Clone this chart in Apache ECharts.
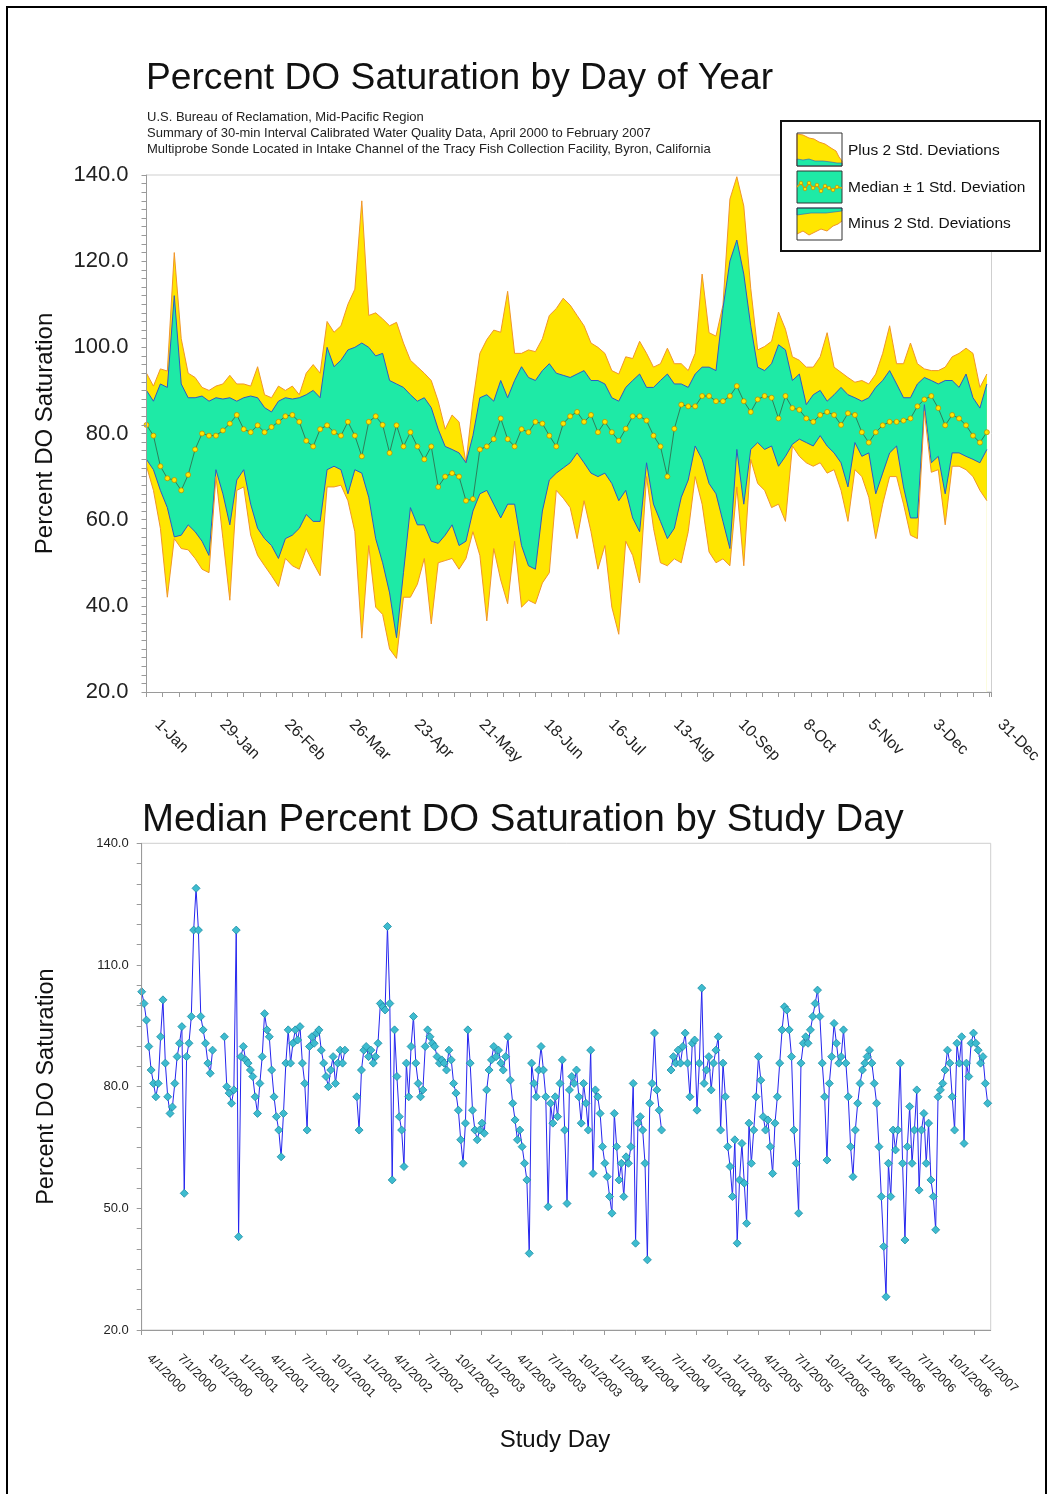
<!DOCTYPE html>
<html><head><meta charset="utf-8">
<script src="https://cdn.jsdelivr.net/npm/echarts@6/dist/echarts.min.js"></script>
<style>html,body{margin:0;padding:0;background:#fff}#c{width:1052px;height:1494px}</style>
</head><body><div id="c"></div>
<script>
const FONT = '"Liberation Sans", Arial, Helvetica, sans-serif';

// ---------- Top chart: Percent DO Saturation by Day of Year (sampled every 3 days) ----------
const doyLabels = ['1-Jan','29-Jan','26-Feb','26-Mar','23-Apr','21-May','18-Jun','16-Jul','13-Aug','10-Sep','8-Oct','5-Nov','3-Dec','31-Dec'];
const dayStep = 3;
const plus2 = [94,91,95,94.5,122,102,94,93,90.7,90,
 91,91.5,93.5,91.5,91.5,91,95.5,89,88.3,91,
 90,91,89,94,96,94,106,103.5,105,110,
 113.5,134,107.4,108,106.6,105,105.8,101,97,95.5,
 94,92.3,87.5,81,84.3,82.7,73.2,87.5,98.6,101.8,
 104,103.5,113,98.6,98.6,99.4,99,102,107.4,109,
 111.4,109.8,107.4,105,101,100,98.6,94.6,93.8,97.8,
 97.4,101.4,98.6,95.4,96.2,99.8,96.2,96.2,94.6,98.6,
 117,103.4,102.6,109.8,134.4,139.6,132.8,113.7,99.4,100.2,
 101.4,108.2,104.2,97.8,97,95.4,95.4,97.8,103.4,95.4,
 94.2,93,91.9,92.3,91.5,93.8,98.6,105,96.2,96.2,
 101,96.2,95,94.6,94.6,95.4,97.8,98.6,99.8,98.6,
 90.7,93.8];
const plus1 = [90,87.5,91.5,90.7,112,91.5,88.3,88.3,88.7,87.5,
 88.3,88,88.3,87.5,88.3,88.7,88.3,86,85,87.5,
 88.3,88,88.3,89,90,88.3,100,95.5,97,99.4,
 100,101,100,98,98.6,92.3,91.5,90.7,89,87.5,
 88.3,86,81,77,76.3,75.5,73.2,79.5,88.3,89,
 87.5,92.3,88.3,92.3,95.5,93,92.3,94.6,96.2,94,
 93.5,93,93.8,94.6,92.3,92.3,91.5,88.3,87.5,90.7,
 92.3,93.8,90.7,90.7,92.3,93.8,91.5,91.5,90.7,93.8,
 95.4,95.4,94.6,109,120,124.9,117,105,95.4,94.6,
 96.2,100.6,99.4,92.3,93.8,86.7,89,90,87.5,89,
 90.7,89,88.3,87.5,88.3,90.7,92.3,94.6,91.5,88.3,
 88.3,91.5,93,92.3,91.5,92.3,92.3,90.7,93.8,88.3,
 85.9,91.5];
const median = [82,79.5,72.4,69.6,69.2,66.8,70.4,76.3,80,79.5,
 79.5,80.7,82.3,84.3,81,80.3,81.9,80.3,81.5,82.7,
 84,84.3,82.7,78.3,77,81,81.9,80.3,79.5,82.7,
 79.5,74.7,82.7,84,82,75.5,81.9,77,80.3,77,
 74,77,67.6,70,70.8,70,64.4,64.8,76.3,77,
 78.7,83.5,78.7,77,81,80.3,82.7,82.3,79.5,77,
 82.3,84,85,82.7,84.3,80.3,82.7,80.3,78.3,81.1,
 84,84,83,79.5,77,70,81.1,86.7,86.3,86.3,
 88.7,88.7,87.5,87.5,88.7,91,87.5,85,87.9,88.7,
 88.3,83.5,88.7,85.9,85.5,83.5,82.7,84.3,85,84.3,
 82,84.7,84.3,80.3,77.9,80.3,81.9,82.7,82.7,83,
 83.5,86.3,87.9,88.7,85.9,81.9,84.3,83.5,81.9,79.5,
 77.9,80.3];
const minus1 = [74,71.6,66.8,62.8,56,56.4,58.8,57.2,55,51.7,
 71.6,66,58.8,69.2,71.6,63.6,58,55.6,54,51,
 55.6,56.4,58,61.2,59.6,59.6,71.6,72.4,71.6,66,
 71.6,70.8,65.2,55.6,50,43,32.6,47.7,62.8,58.8,
 58.8,55,54.5,56.4,58.8,54,55,62,66,66.8,
 63.6,60.4,63.6,63.6,54,49.3,48.5,62,69.2,70.8,
 72,73.2,75.5,73.2,70.8,70,70.8,68.4,64.4,66.8,
 60.4,57.2,73.2,63.6,59.6,55.6,58,65.2,69.2,77.1,
 74,68.4,66,59.6,53.3,76.3,63.6,76.3,77.9,76.3,
 77.1,72.4,74.7,77.5,78.7,77.9,77.1,79.5,77.1,75.5,
 73.2,67.6,77.9,74.7,75.5,66,70.8,75.5,77.1,67.6,
 60.4,60.4,86.7,73.2,74.7,66,75.5,75.5,74.7,74,
 73.2,76.3];
const minus2 = [72.4,66.8,58,42,55.6,53.3,53,51,48.5,47.7,
 70,55.6,41.3,66.8,67.6,56.4,51.7,49.3,47,44.5,
 51,49.3,48.5,53.3,50,47,67.6,67.6,68,64.4,
 57.2,32.5,54,39.7,38,30,27.8,42,42,45,
 51,35.8,50,50.5,51,48.5,51,57.2,51.7,36.5,
 53.3,46,40.5,55,39.7,41.3,40.5,45.3,47.7,66.8,
 65,62.8,55.6,64.4,57.2,48.5,54,39.7,33.4,55,
 51.7,45.3,70,58,50,49.3,50.9,50,57.2,70,
 63.6,52.5,50,50.9,49.3,67.6,49.3,74,68.4,66.8,
 62.8,63.6,59.6,77.1,74.7,73.2,72.4,73.2,70.8,71.6,
 66.8,59.6,71.6,70,65.2,55.6,63.6,70,70,63.6,
 56.4,55.6,85.1,71,71.6,58.8,72.4,72.4,71.6,70,
 66.8,64.4];

// ---------- Bottom chart: Median Percent DO Saturation by Study Day (weekly from 4/1/2000) ----------
const studyStep = 7;
const studyTickDays = [0,91,183,275,365,456,548,640,730,821,913,1005,1095,1186,1278,1370,1461,1552,1644,1736,1826,1917,2009,2101,2191,2282,2374,2466];
const studyTickLabels = ['4/1/2000','7/1/2000','10/1/2000','1/1/2001','4/1/2001','7/1/2001','10/1/2001','1/1/2002','4/1/2002','7/1/2002','10/1/2002','1/1/2003','4/1/2003','7/1/2003','10/1/2003','1/1/2004','4/1/2004','7/1/2004','10/1/2004','1/1/2005','4/1/2005','7/1/2005','10/1/2005','1/1/2006','4/1/2006','7/1/2006','10/1/2006','1/1/2007'];
const studyMedian = [103.4,100.5,96.4,89.9,84.1,80.8,77.5,80.8,92.3,101.4,85.8,77.5,73.4,
 75,80.8,87.4,90.7,94.8,53.7,87.4,90.7,97.3,118.6,128.9,118.6,97.3,
 94,90.7,85.8,83.3,89,null,null,null,null,92.3,80,78.4,75.9,
 79.2,118.6,43,87.4,89.9,86.6,85.8,84.1,82.5,77.5,73.4,80.8,87.4,
 98,94,92.3,84.1,77.5,72.6,69.3,62.7,73.4,85.8,94,85.8,
 90.7,94,91.5,94.8,85.8,80.8,69.3,89.9,92.3,90.7,93.2,94,89,
 85.8,82.5,80,84.1,87.4,80.8,85.8,89,85.8,89,null,null,null,null,
 77.5,69.3,84.1,89,89.9,87.4,89,85.8,87.4,90.7,100.5,99.7,98.9,
 119.5,100.5,57,94,82.5,72.6,69.3,60.3,85.8,77.5,89.9,97.3,85.8,
 80.8,77.5,79.2,89.9,94,92.3,90.7,89.9,87.4,85.8,86.6,85.8,84.1,
 89,86.6,80.8,78.4,74.2,66.9,61.1,71,94,85.8,74.2,69.3,
 66.9,69.3,71,68.5,79.2,84.1,86.6,89.9,87.4,89,85.8,84.1,87.4,
 92.3,81.6,75.9,71.8,66.9,69.3,65.2,61.1,57,38.9,85.8,80.8,77.5,84.1,
 89.9,84.1,77.5,50.4,75.9,71,77.5,72.6,80.8,86.6,69.3,51.2,79.2,
 82.5,80.8,84.1,77.5,71,80.8,75.9,69.3,
 89,58.6,79.2,77.5,73.4,65.2,61.1,57.8,52.9,48.8,
 73.4,65.2,57,61.1,52.9,62.7,61.1,65.2,80.8,41.4,
 71,72.6,69.3,61.1,37.3,75.9,80.8,93.2,79.2,74.2,
 69.3,null,null,null,84.1,87.4,85.8,89,85.8,89.9,
 93.2,85.8,77.5,90.7,91.5,74.2,85.8,104.3,80.8,84.1,
 87.4,79.2,85.8,89,92.3,69.3,85.8,77.5,65.2,60.3,
 52.9,66.9,41.4,57,66,56.2,46.3,71,61.1,69.3,
 77.5,87.4,81.6,72.6,69.3,71.8,65.2,58.6,71,77.5,
 85.8,94,99.7,98.9,94,87.4,69.3,61.1,48.8,85.8,
 90.7,92.3,90.7,94,97.3,100.5,103.8,97.3,85.8,77.5,
 61.9,80.8,87.4,95.6,90.7,85.8,87.4,94,85.8,77.5,
 65.2,57.8,69.3,75.9,80.8,84.1,85.8,87.4,89,85.8,
 80.8,75.9,65.2,52.9,40.6,28.2,61.1,52.9,69.3,64.4,
 69.3,85.8,61.1,42.2,65.2,75.1,61.1,69.3,79.2,54.5,
 69.3,73.4,61.1,71,57,52.9,44.7,77.5,79.2,80.8,
 84.1,89,85.8,77.5,69.3,90.7,85.8,92.3,66,85.8,
 82.5,90.7,93.2,90.7,89,85.8,87.4,80.8,75.9];

// ---------- styling ----------
const YEL = '#FFE600', TEAL = '#1EEAA6', ORANGE = '#F0952A', BLUE = '#2E58C8';
const pairs = (arr, step) => arr.map((v, i) => [i * step, v]);

const chart = echarts.init(document.getElementById('c'), null, {renderer: 'canvas'});

function bandSeries(arr, edge, fill) {
  return {
    type: 'line', xAxisIndex: 0, yAxisIndex: 0, data: pairs(arr, dayStep),
    symbol: 'none', smooth: false, silent: true,
    lineStyle: {color: edge, width: 1},
    areaStyle: {color: fill, opacity: 1, origin: 'start'}
  };
}

const LEG_FS = 15.5;
const legendGroup = {
  type: 'group', x: 781, y: 121, children: [
    {type: 'rect', shape: {x: 0, y: 0, width: 259, height: 130}, style: {fill: '#fff', stroke: '#111', lineWidth: 2}},
    // entry 1
    {type: 'rect', shape: {x: 16, y: 12, width: 45, height: 33}, style: {fill: '#fff', stroke: 'none'}},
    {type: 'polygon', shape: {points: [[16,13],[22,14],[28,17],[33,18],[38,21],[44,23],[50,27],[55,30],[58,36],[61,40],[61,45],[16,45]]}, style: {fill: YEL, stroke: ORANGE, lineWidth: 1}},
    {type: 'polygon', shape: {points: [[16,38],[22,39],[28,38],[34,40],[42,40],[50,41],[56,42],[61,42],[61,45],[16,45]]}, style: {fill: TEAL, stroke: BLUE, lineWidth: 0.6}},
    {type: 'rect', shape: {x: 16, y: 12, width: 45, height: 33}, style: {fill: 'none', stroke: '#333', lineWidth: 1}},
    // entry 2
    {type: 'rect', shape: {x: 16, y: 50, width: 45, height: 32}, style: {fill: TEAL, stroke: '#333', lineWidth: 1}},
    {type: 'polyline', shape: {points: [[16,66],[20,62],[24,68],[28,62],[32,67],[36,64],[40,70],[44,65],[48,67],[52,69],[56,66],[61,67]]}, style: {stroke: '#E0A000', lineWidth: 1.5, fill: 'none'}},
    ...[[20,62],[24,68],[28,62],[32,67],[36,64],[40,70],[44,65],[48,67],[52,69],[56,66]].map(p => ({type: 'circle', shape: {cx: p[0], cy: p[1], r: 1.8}, style: {fill: YEL, stroke: '#C08000', lineWidth: 0.6}})),
    // entry 3
    {type: 'rect', shape: {x: 16, y: 87, width: 45, height: 32}, style: {fill: '#fff', stroke: 'none'}},
    {type: 'polygon', shape: {points: [[16,87],[61,87],[61,100],[57,103],[52,105],[46,110],[40,108],[34,111],[28,114],[22,110],[16,113]]}, style: {fill: YEL, stroke: 'none'}},
    {type: 'polyline', shape: {points: [[16,113],[22,110],[28,114],[34,111],[40,108],[46,110],[52,105],[57,103],[61,100]]}, style: {stroke: ORANGE, lineWidth: 1, fill: 'none'}},
    {type: 'polygon', shape: {points: [[16,87],[61,87],[61,90],[45,92],[30,92],[16,94]]}, style: {fill: TEAL, stroke: BLUE, lineWidth: 0.6}},
    {type: 'rect', shape: {x: 16, y: 87, width: 45, height: 32}, style: {fill: 'none', stroke: '#333', lineWidth: 1}},
    // texts
    {type: 'text', x: 67, y: 30, style: {text: 'Plus 2 Std. Deviations', fontSize: LEG_FS, fontFamily: FONT, fill: '#111', align: 'left', verticalAlign: 'middle'}},
    {type: 'text', x: 67, y: 67, style: {text: 'Median \u00b1 1 Std. Deviation', fontSize: LEG_FS, fontFamily: FONT, fill: '#111', align: 'left', verticalAlign: 'middle'}},
    {type: 'text', x: 67, y: 103, style: {text: 'Minus 2 Std. Deviations', fontSize: LEG_FS, fontFamily: FONT, fill: '#111', align: 'left', verticalAlign: 'middle'}}
  ]
};

const option = {
  animation: false,
  backgroundColor: '#fff',
  textStyle: {fontFamily: FONT},
  grid: [
    {left: 146.5, top: 175, width: 845, height: 517, show: true, borderColor: '#cfcfcf', borderWidth: 1, backgroundColor: 'transparent'},
    {left: 141.7, top: 843.3, width: 849, height: 486.7, show: true, borderColor: '#cfcfcf', borderWidth: 1, backgroundColor: 'transparent'}
  ],
  xAxis: [
    {
      type: 'value', gridIndex: 0, min: 0, max: 365, interval: 7, z: 10,
      splitLine: {show: false},
      axisLine: {show: true, lineStyle: {color: '#9a9a9a', width: 1}},
      axisTick: {show: true, length: 5, lineStyle: {color: '#9a9a9a'}},
      axisLabel: {
        rotate: -45, fontSize: 16, color: '#222', fontFamily: FONT, margin: 41,
        verticalAlign: 'bottom', lineHeight: 31, showMinLabel: true, showMaxLabel: true,
        formatter: v => (v % 28 === 0 && doyLabels[v / 28]) ? doyLabels[v / 28] : ''
      }
    },
    {
      type: 'value', gridIndex: 1, min: 0, max: 2515, z: 10,
      splitLine: {show: false},
      axisLine: {show: true, lineStyle: {color: '#9a9a9a', width: 1}},
      axisTick: {show: true, length: 5, lineStyle: {color: '#9a9a9a'}, customValues: studyTickDays},
      axisLabel: {
        rotate: -45, fontSize: 12.5, color: '#222', fontFamily: FONT, margin: 33.5,
        verticalAlign: 'bottom', lineHeight: 20.5, showMinLabel: true, showMaxLabel: true, hideOverlap: false,
        customValues: studyTickDays,
        formatter: v => { const i = studyTickDays.indexOf(v); return i >= 0 ? studyTickLabels[i] : ''; }
      }
    }
  ],
  yAxis: [
    {
      type: 'value', gridIndex: 0, min: 20, max: 140, interval: 2, z: 10,
      name: 'Percent DO Saturation', nameLocation: 'middle', nameGap: 89,
      nameTextStyle: {fontSize: 24, color: '#111', fontFamily: FONT},
      splitLine: {show: false},
      axisLine: {show: true, lineStyle: {color: '#9a9a9a'}},
      axisTick: {show: true, length: 5, lineStyle: {color: '#9a9a9a'}},
      axisLabel: {fontSize: 22, color: '#222', fontFamily: FONT, margin: 18,
        formatter: v => (v % 20 === 0 ? v.toFixed(1) : '')}
    },
    {
      type: 'value', gridIndex: 1, min: 20, max: 140, interval: 5, z: 10,
      name: 'Percent DO Saturation', nameLocation: 'middle', nameGap: 83,
      nameTextStyle: {fontSize: 23.5, color: '#111', fontFamily: FONT},
      splitLine: {show: false},
      axisLine: {show: true, lineStyle: {color: '#9a9a9a'}},
      axisTick: {show: true, length: 5, lineStyle: {color: '#9a9a9a'}},
      axisLabel: {fontSize: 13, color: '#222', fontFamily: FONT, margin: 13,
        formatter: v => ((v - 20) % 30 === 0 ? v.toFixed(1) : '')}
    }
  ],
  series: [
    bandSeries(plus2, ORANGE, YEL),
    bandSeries(plus1, BLUE, TEAL),
    bandSeries(minus1, BLUE, YEL),
    bandSeries(minus2, ORANGE, '#ffffff'),
    {
      type: 'line', xAxisIndex: 0, yAxisIndex: 0, data: pairs(median, dayStep),
      symbol: 'circle', symbolSize: 5, showSymbol: true,
      lineStyle: {color: '#2F7F5A', width: 1},
      itemStyle: {color: YEL, borderColor: '#B88600', borderWidth: 0.7}
    },
    {
      type: 'line', xAxisIndex: 1, yAxisIndex: 1, data: pairs(studyMedian, studyStep),
      connectNulls: false, symbol: 'diamond', symbolSize: 8, showSymbol: true,
      lineStyle: {color: '#2525EE', width: 1},
      itemStyle: {color: '#3DBCCF', borderColor: '#1C8BA3', borderWidth: 0.8}
    }
  ],
  graphic: [
    {type: 'rect', shape: {x: 7, y: 7, width: 1039, height: 1500}, style: {fill: 'none', stroke: '#000', lineWidth: 2}, silent: true},
    {type: 'text', x: 146, y: 79, style: {text: 'Percent DO Saturation by Day of Year', fontSize: 37.2, fontFamily: FONT, fill: '#111', align: 'left', verticalAlign: 'middle'}},
    {type: 'text', x: 147, y: 117, style: {text: 'U.S. Bureau of Reclamation, Mid-Pacific Region', fontSize: 13, fontFamily: FONT, fill: '#222', align: 'left', verticalAlign: 'middle'}},
    {type: 'text', x: 147, y: 133, style: {text: 'Summary of 30-min Interval Calibrated Water Quality Data, April 2000 to February 2007', fontSize: 13, fontFamily: FONT, fill: '#222', align: 'left', verticalAlign: 'middle'}},
    {type: 'text', x: 147, y: 149, style: {text: 'Multiprobe Sonde Located in Intake Channel of the Tracy Fish Collection Facility, Byron, California', fontSize: 13, fontFamily: FONT, fill: '#222', align: 'left', verticalAlign: 'middle'}},
    {type: 'text', x: 142, y: 820, style: {text: 'Median Percent DO Saturation by Study Day', fontSize: 38.4, fontFamily: FONT, fill: '#111', align: 'left', verticalAlign: 'middle'}},
    {type: 'text', x: 555, y: 1440, style: {text: 'Study Day', fontSize: 24, fontFamily: FONT, fill: '#111', align: 'center', verticalAlign: 'middle'}},
    legendGroup
  ]
};
chart.setOption(option);
</script>
</body></html>
